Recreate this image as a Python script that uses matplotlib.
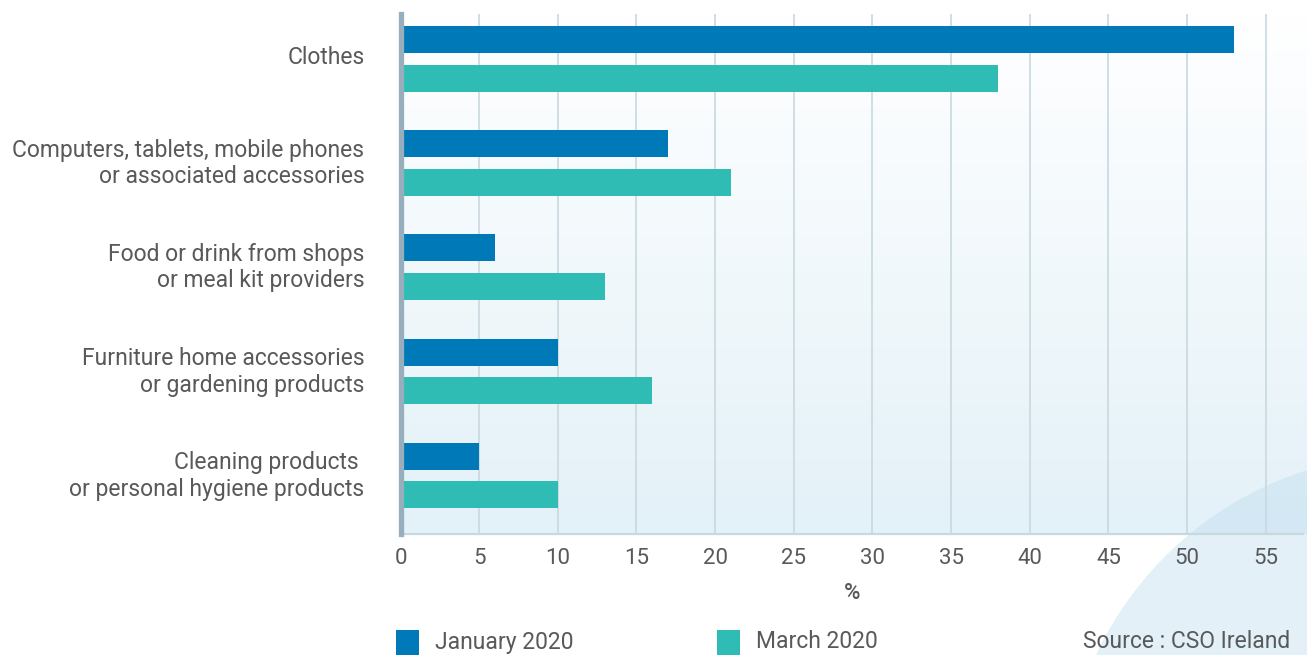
import numpy as np
import matplotlib
matplotlib.use("Agg")
import matplotlib.pyplot as plt
import matplotlib.transforms as mtransforms
from matplotlib.patches import Rectangle, Circle

# online purchases by category, % of respondents
categories = ["Clothes",
              "Computers, tablets, mobile phones\nor associated accessories",
              "Food or drink from shops\nor meal kit providers",
              "Furniture home accessories\nor gardening products",
              "Cleaning products \nor personal hygiene products"]
jan_2020 = [53, 17, 6, 10, 5]
mar_2020 = [38, 21, 13, 16, 10]
series_names = ["January 2020", "March 2020"]
source_text = "Source : CSO Ireland"
x_ticks = list(range(0, 60, 5))

col_jan = "#0079b8"
col_mar = "#2ebcb4"
txt_col = "#58595b"

plt.rcParams["font.family"] = ["Roboto", "DejaVu Sans"]

W, H = 1307, 655
fig = plt.figure(figsize=(W / 100, H / 100), dpi=100)

# background layer in pixel coords: soft gradient behind the plot + big arc
bg = fig.add_axes([0, 0, 1, 1], zorder=-1)
bg.set_xlim(0, W)
bg.set_ylim(H, 0)
bg.axis("off")
grad = np.linspace(0, 1, 256).reshape(-1, 1)
top = np.array([1.0, 1.0, 1.0])
bot = np.array([227, 241, 248]) / 255
img = top + grad[..., None] * (bot - top)
img = np.repeat(img, 2, axis=1)
bg.imshow(img, extent=(402, W, 534, 14), aspect="auto", interpolation="bilinear")
bg.add_patch(Circle((1412, 803), 349, color=(192 / 255, 222 / 255, 239 / 255),
                    alpha=0.43, lw=0))

ax = fig.add_axes([400.5 / W, 1 - 534 / H, (1303 - 400.5) / W, (534 - 14) / H])
ax.set_facecolor("none")

y = np.arange(len(categories))
off = 0.185
h = 0.26
ax.barh(y - off, jan_2020, height=h, color=col_jan, zorder=3)
ax.barh(y + off, mar_2020, height=h, color=col_mar, zorder=3)

ax.set_xlim(0, 903 / 15.74)
ax.set_ylim(4.56, -0.43)
ax.set_xticks(x_ticks)
ax.set_xticklabels([str(t) for t in x_ticks])
ax.set_yticks(y)
ax.set_yticklabels(categories, linespacing=1.2)
ax.tick_params(axis="y", length=0, pad=26, labelsize=16.5, labelcolor=txt_col)
ax.tick_params(axis="x", length=0, pad=10, labelsize=16, labelcolor=txt_col)
ax.grid(axis="x", color="#c9d8e0", lw=1.2, zorder=1)

# category labels sit a little above the middle of each pair
lift = mtransforms.ScaledTranslation(0, 4 / 100, fig.dpi_scale_trans)
for lab in ax.get_yticklabels():
    lab.set_transform(lab.get_transform() + lift)

for s in ["top", "right"]:
    ax.spines[s].set_visible(False)
ax.spines["left"].set_color("#97afbd")
ax.spines["left"].set_linewidth(3.8)
ax.spines["left"].set_zorder(4)
ax.spines["bottom"].set_color("#c9d7df")
ax.spines["bottom"].set_linewidth(1.6)
ax.set_xlabel("%", fontsize=16, color=txt_col, labelpad=10, fontweight="medium")

# legend row along the bottom edge
for x0, c, name in [(396, col_jan, series_names[0]), (717, col_mar, series_names[1])]:
    bg.add_patch(Rectangle((x0, 630), 23, 30, color=c, lw=0))
    bg.text(x0 + 39, 642, name, fontsize=16.5, color=txt_col, va="center", ha="left")
bg.text(1290, 642, source_text, fontsize=16.5, color=txt_col, va="center", ha="right")

fig.savefig("out.png", dpi=100)
